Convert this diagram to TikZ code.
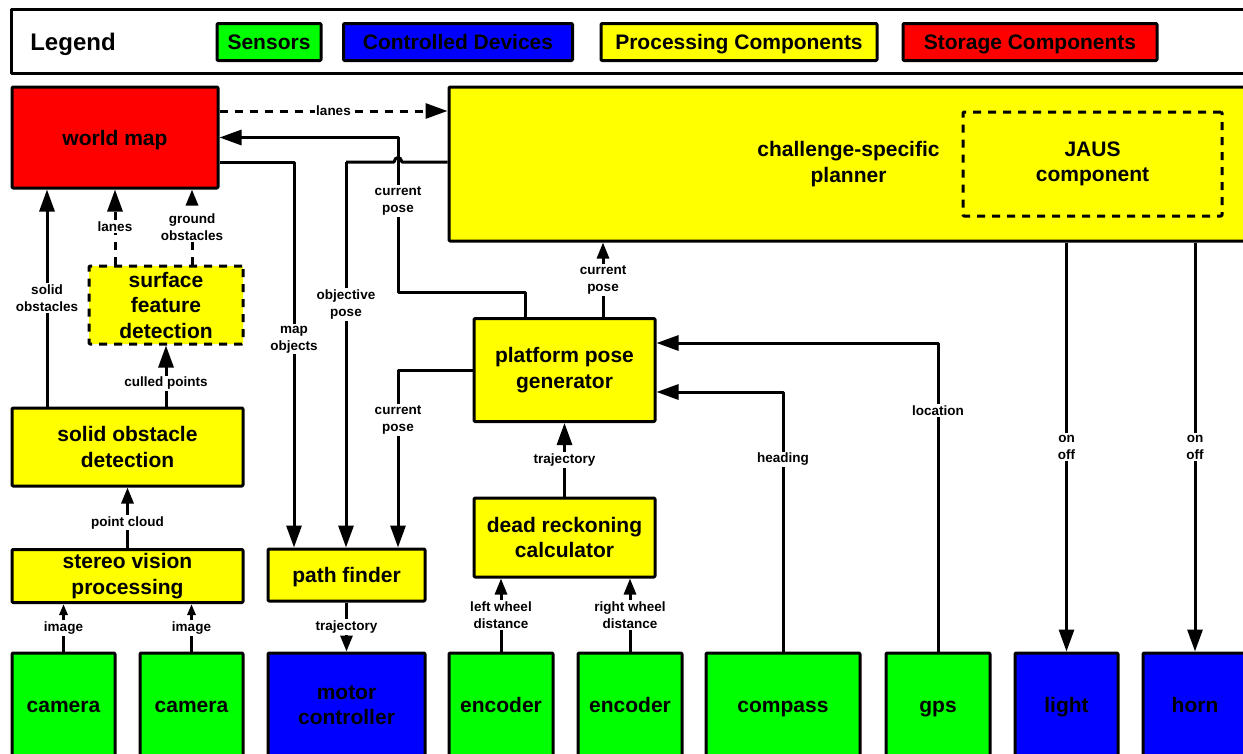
\documentclass[tikz,border=0pt]{standalone}
\usepackage{fontspec}
\setmainfont{Liberation Sans}
\usetikzlibrary{arrows.meta}

\definecolor{sensgreen}{RGB}{0,255,0}
\definecolor{devblue}{RGB}{0,0,255}
\definecolor{procyellow}{RGB}{255,255,0}
\definecolor{storred}{RGB}{255,0,0}

\begin{document}
\begin{tikzpicture}[x=1pt, y=-1pt, line width=3pt, line join=round,
    box/.style={draw, rectangle, rounded corners=1pt, inner sep=2pt, align=center,
      font=\fontsize{21}{25.5}\selectfont\bfseries},
    oneline/.style={text height=15.3pt, text depth=0pt},
    sensor/.style={box, fill=sensgreen},
    device/.style={box, fill=devblue},
    proc/.style={box, fill=procyellow},
    store/.style={box, fill=storred},
    lbl/.style={fill=white, inner sep=1.5pt, align=center,
      font=\fontsize{13.5}{17}\selectfont\bfseries},
    bigarr/.style={-{Triangle[length=22pt, width=15pt]}},
    midarr/.style={-{Triangle[length=16pt, width=12pt]}},
    smallarr/.style={-{Triangle[length=11pt, width=8pt]}},
    dashline/.style={dash pattern=on 8pt off 7pt}]
  \useasboundingbox (0,0) rectangle (1243,753);
  \clip (0,0) rectangle (1243,753);

  % Legenda
  \draw (11,9) rectangle (1262,73);
  \node[text height=17.5pt, text depth=0pt, font=\fontsize{24}{28}\selectfont\bfseries] (legendtitle) at (73,42) {Legend};
  \node[sensor, oneline, minimum width=104pt, minimum height=37pt] (keysens) at (269,42) {Sensors};
  \node[device, oneline, minimum width=229pt, minimum height=37pt] (keydev) at (458,42) {Controlled Devices};
  \node[proc, oneline, minimum width=276pt, minimum height=37pt] (keyproc) at (739,42) {Processing Components};
  \node[store, oneline, minimum width=254pt, minimum height=37pt] (keystor) at (1030,42) {Storage Components};

  % Blocos
  \node[store, oneline, minimum width=206pt, minimum height=101pt] (worldmap) at (115,137.5) {world map};
  \node[proc, minimum width=799pt, minimum height=154pt] (planner) at (848.5,164) {challenge-specific\\planner};
  \node[box, dashline, minimum width=259pt, minimum height=104pt] (jaus) at (1092.5,164) {JAUS\\component};
  \node[proc, dashline, minimum width=154pt, minimum height=78pt] (surface) at (166,305) {surface\\feature\\detection};
  \node[proc, minimum width=231pt, minimum height=78pt] (solidobs) at (127.5,447) {solid obstacle\\detection};
  \node[proc, minimum width=231pt, minimum height=53pt] (stereo) at (127.5,576) {stereo vision\\processing};
  \node[proc, oneline, minimum width=157pt, minimum height=52pt] (pathfinder) at (346.5,575) {path finder};
  \node[proc, minimum width=181pt, minimum height=103pt] (posegen) at (564.5,370) {platform pose\\generator};
  \node[proc, minimum width=181pt, minimum height=79pt] (deadreck) at (564.5,537.5) {dead reckoning\\calculator};

  \node[sensor, oneline, minimum width=103pt, minimum height=104pt] (cam1) at (63.5,705) {camera};
  \node[sensor, oneline, minimum width=103pt, minimum height=104pt] (cam2) at (191.5,705) {camera};
  \node[device, minimum width=157pt, minimum height=104pt] (motor) at (346.5,705) {motor\\controller};
  \node[sensor, oneline, minimum width=104pt, minimum height=104pt] (enc1) at (501,705) {encoder};
  \node[sensor, oneline, minimum width=104pt, minimum height=104pt] (enc2) at (630,705) {encoder};
  \node[sensor, oneline, minimum width=154pt, minimum height=104pt] (compass) at (783,705) {compass};
  \node[sensor, oneline, minimum width=104pt, minimum height=104pt] (gps) at (938,705) {gps};
  \node[device, oneline, minimum width=103pt, minimum height=104pt] (light) at (1066.5,705) {light};
  \node[device, oneline, minimum width=104pt, minimum height=104pt] (horn) at (1195,705) {horn};

  % Ligações
  \draw[bigarr, dashline] (worldmap.east |- 0,111) -- node[lbl] (lbllanes) {lanes} (planner.west |- 0,111);
  \draw[bigarr] (posegen.north -| 525,0) |- (398,292)
    -- node[lbl, pos=0.59] (lblcur1) {current\\pose} (worldmap.east -| 398,0) -- (worldmap.east);
  \draw (planner.west |- 0,162) -- (402,162) .. controls (401,156) and (395,156) .. (394,162) -- (346,162);
  \draw[bigarr] (346,162) -- node[lbl, pos=0.37] (lblobj) {objective\\pose} (pathfinder.north -| 346,0);
  \draw[bigarr] (worldmap.east |- 0,162) -| node[lbl, pos=0.73] (lblmap) {map\\objects} (pathfinder.north -| 294,0);
  \draw[bigarr] (posegen.west) -| node[lbl, pos=0.64] (lblcur2) {current\\pose} (pathfinder.north -| 398,0);
  \draw[midarr] (posegen.north -| 603,0) -- node[lbl] (lblcur3) {current\\pose} (planner.south -| 603,0);
  \draw[bigarr] (deadreck.north) -- node[lbl] (lbltraj1) {trajectory} (posegen.south);
  \draw[midarr] (enc1.north) -- node[lbl] (lblleft) {left wheel\\distance} (enc1.north |- deadreck.south);
  \draw[midarr] (enc2.north) -- node[lbl] (lblright) {right wheel\\distance} (enc2.north |- deadreck.south);
  \draw[bigarr] (compass.north) |- node[lbl, pos=0.37] (lblhead) {heading} (posegen.east |- 0,392);
  \draw[bigarr] (gps.north) |- node[lbl, pos=0.39] (lblloc) {location} (posegen.east |- 0,343);
  \draw[bigarr] (planner.south -| light.north) -- node[lbl] (lblon1) {on\\off} (light.north);
  \draw[bigarr] (planner.south -| horn.north) -- node[lbl] (lblon2) {on\\off} (horn.north);
  \draw[midarr] (pathfinder.south) -- node[lbl] (lbltraj2) {trajectory} (motor.north);
  \draw[smallarr] (cam1.north) -- node[lbl] (lblimg1) {image} (cam1.north |- stereo.south);
  \draw[smallarr] (cam2.north) -- node[lbl] (lblimg2) {image} (cam2.north |- stereo.south);
  \draw[midarr] (stereo.north) -- node[lbl, pos=0.42] (lblcloud) {point cloud} (solidobs.south);
  \draw[bigarr] (solidobs.north -| 166,0) -- node[lbl, pos=0.38] (lblculled) {culled points} (surface.south);
  \draw[bigarr] (solidobs.north -| 47,0) -- node[lbl] (lblsolid) {solid\\obstacles} (worldmap.south -| 47,0);
  \draw[bigarr, dashline] (surface.north -| 115,0) -- node[lbl] (lbllanes2) {lanes} (worldmap.south -| 115,0);
  \draw[midarr, dashline] (surface.north -| 192,0) -- node[lbl] (lblground) {ground\\obstacles} (worldmap.south -| 192,0);
\end{tikzpicture}
\end{document}
